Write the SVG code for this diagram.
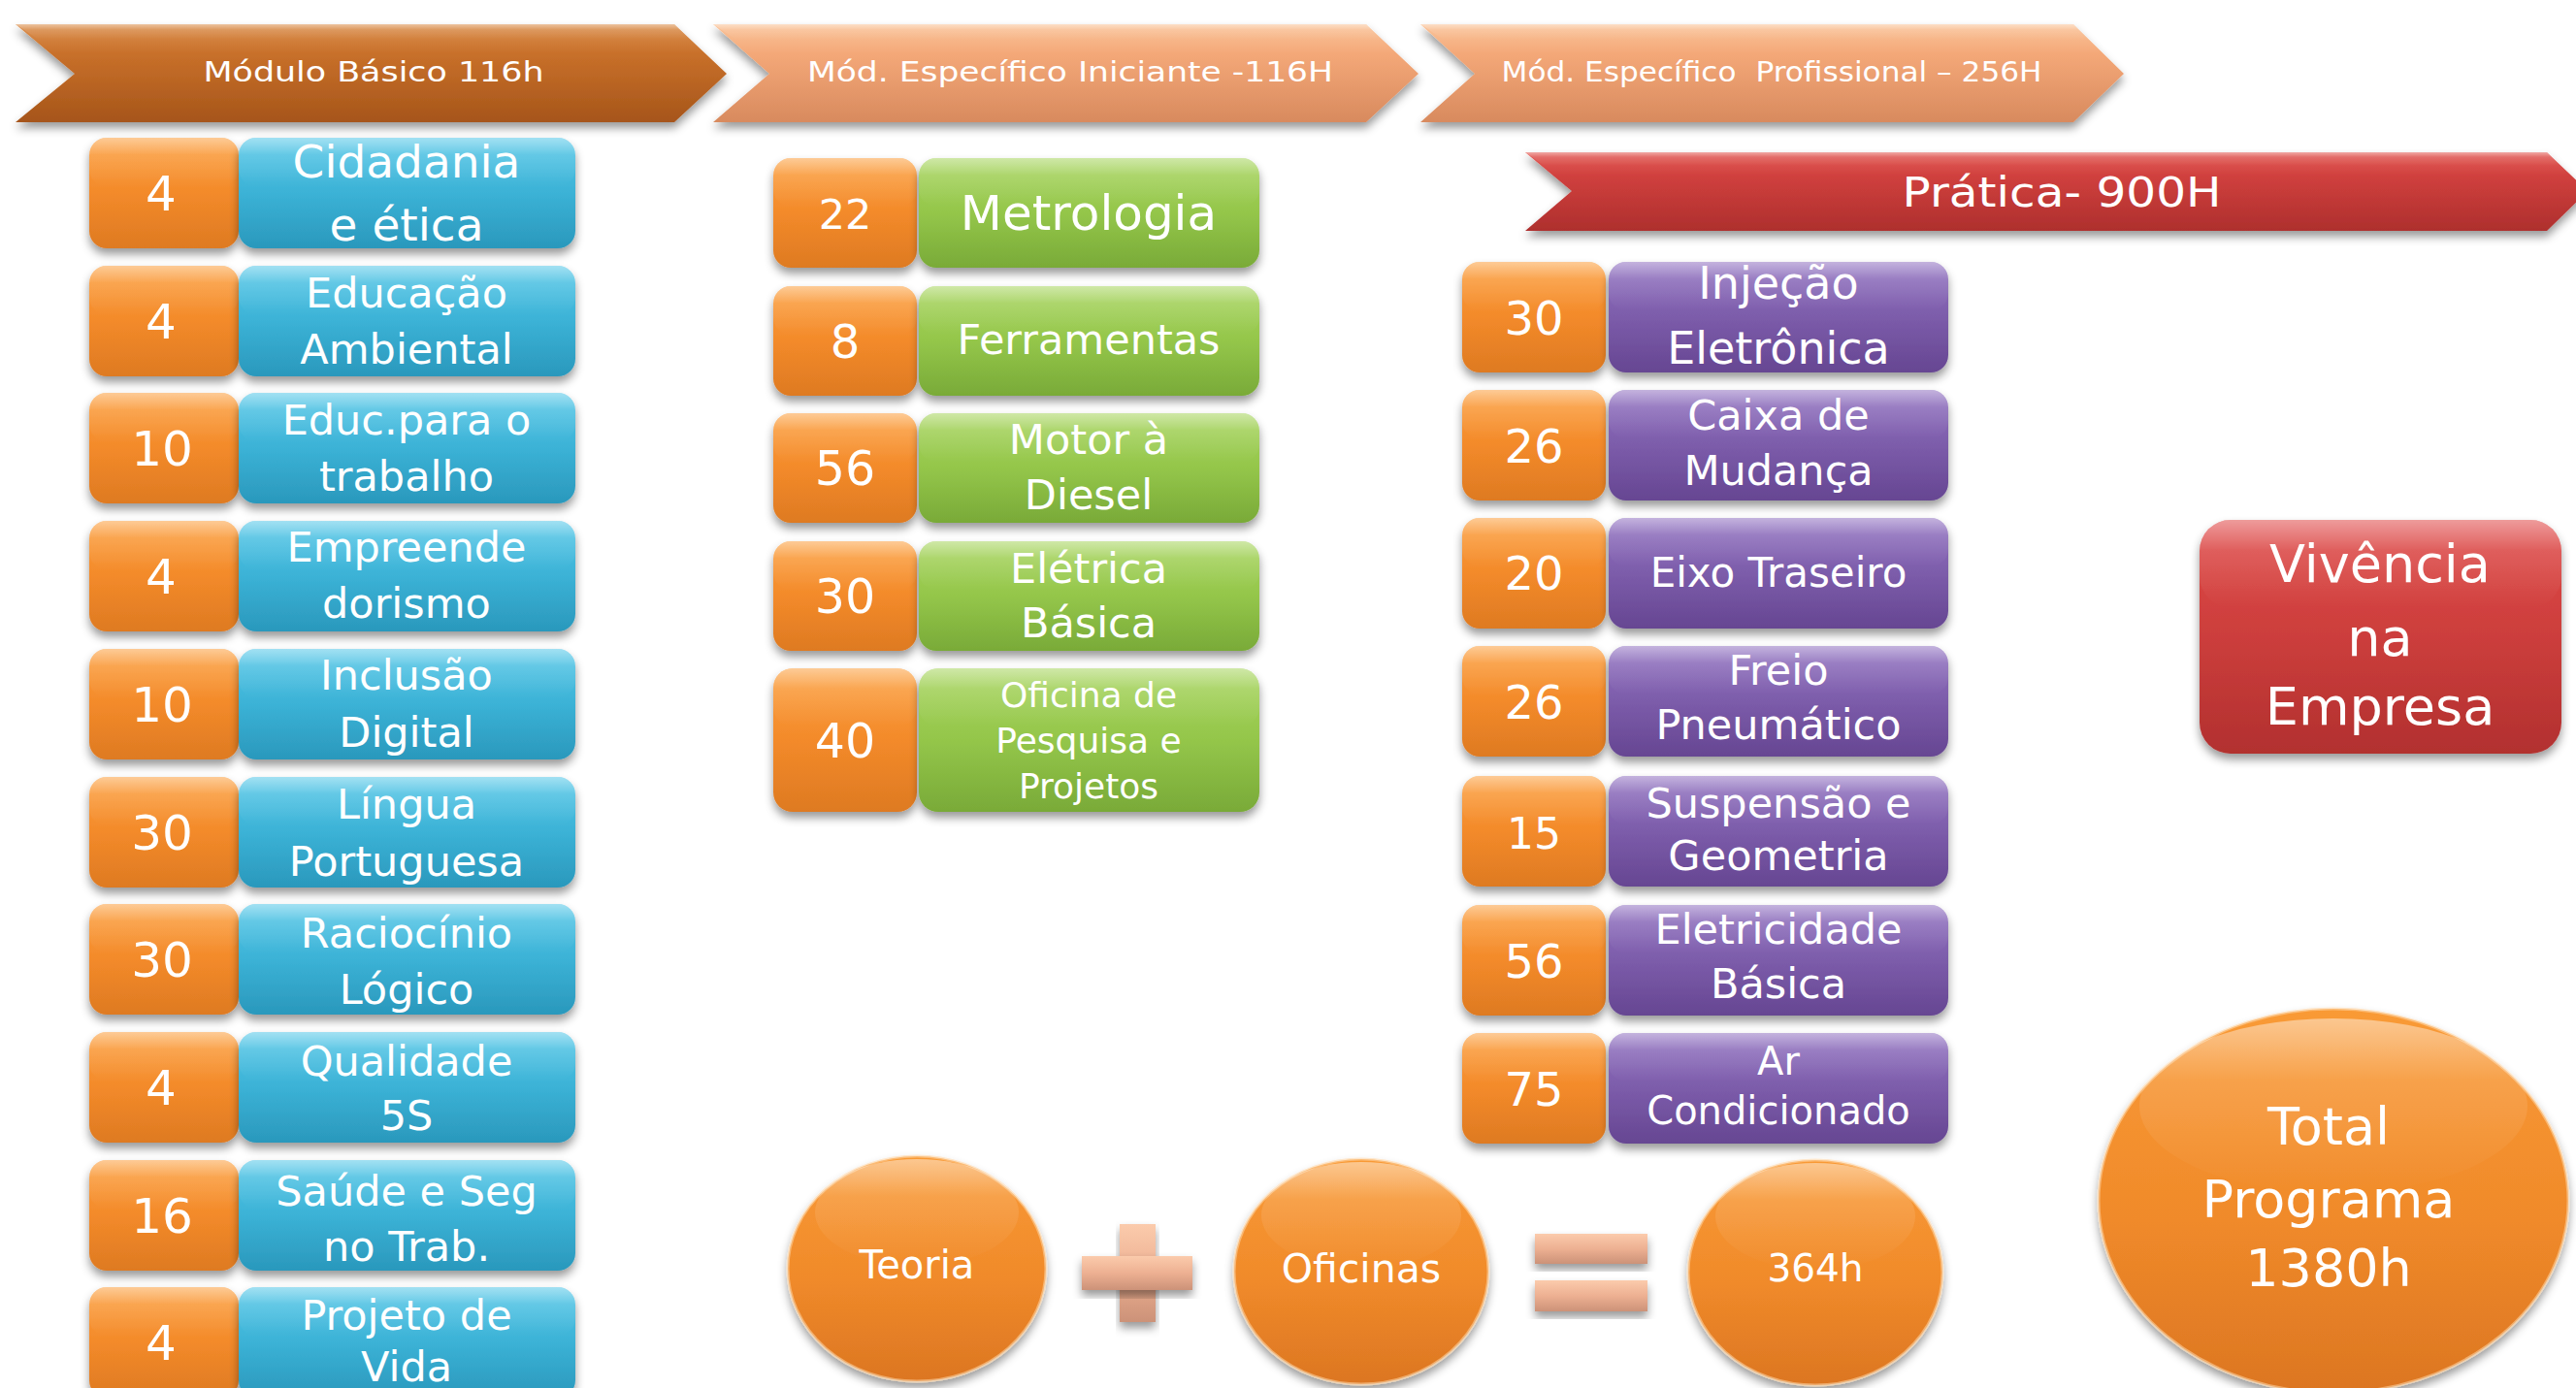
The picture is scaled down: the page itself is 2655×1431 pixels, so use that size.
<svg xmlns="http://www.w3.org/2000/svg" width="2655" height="1431" viewBox="0 0 2655 1431">
<defs>
<style>
.t{font-family:"DejaVu Sans","Open Sans",sans-serif;fill:#fff;text-anchor:middle}
.n{font-size:50px}
.l{font-size:43px}
.num{fill:url(#gOrange);filter:url(#sh)}
.blue{fill:url(#gBlue);filter:url(#sh)}
.green{fill:url(#gGreen);filter:url(#sh)}
.purple{fill:url(#gPurple);filter:url(#sh)}
.hl{fill:url(#gHL)}
.ell{fill:url(#gEll);filter:url(#sh);stroke:#FFD7A8;stroke-width:3;stroke-opacity:.55}
.sign{fill:url(#gSign);filter:url(#sh)}
</style>
<filter id="sh" x="-10%" y="-10%" width="120%" height="135%"><feDropShadow dx="0" dy="6" stdDeviation="5" flood-color="#000" flood-opacity="0.4"/></filter>
<linearGradient id="gOrange" x1="0" y1="0" x2="0" y2="1"><stop offset="0" stop-color="#FCA040"/><stop offset=".5" stop-color="#F38A2A"/><stop offset="1" stop-color="#DE7A22"/></linearGradient>
<linearGradient id="gBlue" x1="0" y1="0" x2="0" y2="1"><stop offset="0" stop-color="#58C8E8"/><stop offset=".5" stop-color="#3BB2D6"/><stop offset="1" stop-color="#2A98BC"/></linearGradient>
<linearGradient id="gGreen" x1="0" y1="0" x2="0" y2="1"><stop offset="0" stop-color="#A8D560"/><stop offset=".5" stop-color="#94C64A"/><stop offset="1" stop-color="#79AA38"/></linearGradient>
<linearGradient id="gPurple" x1="0" y1="0" x2="0" y2="1"><stop offset="0" stop-color="#9374C2"/><stop offset=".5" stop-color="#7C5CAA"/><stop offset="1" stop-color="#664692"/></linearGradient>
<linearGradient id="gRed" x1="0" y1="0" x2="0" y2="1"><stop offset="0" stop-color="#E04B49"/><stop offset=".5" stop-color="#CC3E3C"/><stop offset="1" stop-color="#B2302F"/></linearGradient>
<linearGradient id="gArrowDark" x1="0" y1="0" x2="0" y2="1"><stop offset="0" stop-color="#DC9150"/><stop offset=".3" stop-color="#C8702A"/><stop offset="1" stop-color="#A6551A"/></linearGradient>
<linearGradient id="gArrowLight" x1="0" y1="0" x2="0" y2="1"><stop offset="0" stop-color="#FAC49A"/><stop offset=".3" stop-color="#F4A878"/><stop offset="1" stop-color="#D88A5E"/></linearGradient>
<linearGradient id="gPratica" x1="0" y1="0" x2="0" y2="1"><stop offset="0" stop-color="#E4605A"/><stop offset=".3" stop-color="#D0403E"/><stop offset="1" stop-color="#AE2F2D"/></linearGradient>
<linearGradient id="gEll" x1="0" y1="0" x2="0" y2="1"><stop offset="0" stop-color="#F99A36"/><stop offset=".55" stop-color="#F08A2A"/><stop offset="1" stop-color="#DC7622"/></linearGradient>
<linearGradient id="gSign" x1="0" y1="0" x2="0" y2="1"><stop offset="0" stop-color="#FBCBAC"/><stop offset=".5" stop-color="#EDB092"/><stop offset="1" stop-color="#CC9278"/></linearGradient>
<linearGradient id="gHL" x1="0" y1="0" x2="0" y2="1"><stop offset="0" stop-color="#fff" stop-opacity=".45"/><stop offset=".35" stop-color="#fff" stop-opacity=".12"/><stop offset="1" stop-color="#fff" stop-opacity="0"/></linearGradient>
</defs>
<rect width="2655" height="1431" fill="#fff"/>

<g id="connectors"></g>

<!-- header chevrons -->
<g id="modulo-basico">
<path d="M16,25 L695,25 L749,76 L695,126 L16,126 L77,76 Z" fill="url(#gArrowDark)" filter="url(#sh)"/>
<path d="M16,25 L695,25 L712,41 L40,41 Z" class="hl"/>
<text class="t" x="385" y="84" font-size="29" textLength="351" lengthAdjust="spacingAndGlyphs">Módulo Básico 116h</text>
</g>
<g id="mod-iniciante">
<path d="M735,25 L1408,25 L1462,76 L1408,126 L735,126 L793,76 Z" fill="url(#gArrowLight)" filter="url(#sh)"/>
<path d="M735,25 L1408,25 L1425,41 L759,41 Z" class="hl"/>
<text class="t" x="1103" y="84" font-size="29" textLength="542" lengthAdjust="spacingAndGlyphs">Mód. Específico Iniciante -116H</text>
</g>
<g id="mod-profissional">
<path d="M1464,25 L2137,25 L2189,76 L2137,126 L1464,126 L1520,76 Z" fill="url(#gArrowLight)" filter="url(#sh)"/>
<path d="M1464,25 L2137,25 L2154,41 L1488,41 Z" class="hl"/>
<text class="t" x="1826" y="84" font-size="29" textLength="557" lengthAdjust="spacingAndGlyphs" xml:space="preserve">Mód. Específico  Profissional – 256H</text>
</g>
<g id="pratica">
<path d="M1572,157 L2625,157 L2667,197 L2625,238 L1572,238 L1620,197 Z" fill="url(#gPratica)" filter="url(#sh)"/>
<path d="M1572,157 L2625,157 L2640,171 L1592,171 Z" class="hl"/>
<text class="t" x="2125" y="213" font-size="43" textLength="329" lengthAdjust="spacingAndGlyphs">Prática- 900H</text>
</g>

<!-- Módulo Básico column -->
<g id="b1"><rect class="num" x="92" y="142" width="154" height="114" rx="18"/><rect class="hl" x="92" y="142" width="154" height="50" rx="18"/><rect class="blue" x="246" y="142" width="347" height="114" rx="18"/><rect class="hl" x="246" y="142" width="347" height="50" rx="18"/>
<text class="t n" x="166" y="217">4</text><text class="t" font-size="47" x="419" y="183">Cidadania</text><text class="t" font-size="47" x="419" y="248">e ética</text></g>
<g id="b2"><rect class="num" x="92" y="274" width="154" height="114" rx="18"/><rect class="hl" x="92" y="274" width="154" height="50" rx="18"/><rect class="blue" x="246" y="274" width="347" height="114" rx="18"/><rect class="hl" x="246" y="274" width="347" height="50" rx="18"/>
<text class="t n" x="166" y="349">4</text><text class="t l" x="419" y="317">Educação</text><text class="t l" x="419" y="375">Ambiental</text></g>
<g id="b3"><rect class="num" x="92" y="405" width="154" height="114" rx="18"/><rect class="hl" x="92" y="405" width="154" height="50" rx="18"/><rect class="blue" x="246" y="405" width="347" height="114" rx="18"/><rect class="hl" x="246" y="405" width="347" height="50" rx="18"/>
<text class="t n" x="167" y="480">10</text><text class="t l" x="419" y="448">Educ.para o</text><text class="t l" x="419" y="506">trabalho</text></g>
<g id="b4"><rect class="num" x="92" y="537" width="154" height="114" rx="18"/><rect class="hl" x="92" y="537" width="154" height="50" rx="18"/><rect class="blue" x="246" y="537" width="347" height="114" rx="18"/><rect class="hl" x="246" y="537" width="347" height="50" rx="18"/>
<text class="t n" x="166" y="612">4</text><text class="t l" x="419" y="579">Empreende</text><text class="t l" x="419" y="637">dorismo</text></g>
<g id="b5"><rect class="num" x="92" y="669" width="154" height="114" rx="18"/><rect class="hl" x="92" y="669" width="154" height="50" rx="18"/><rect class="blue" x="246" y="669" width="347" height="114" rx="18"/><rect class="hl" x="246" y="669" width="347" height="50" rx="18"/>
<text class="t n" x="167" y="744">10</text><text class="t l" x="419" y="711">Inclusão</text><text class="t l" x="419" y="770">Digital</text></g>
<g id="b6"><rect class="num" x="92" y="801" width="154" height="114" rx="18"/><rect class="hl" x="92" y="801" width="154" height="50" rx="18"/><rect class="blue" x="246" y="801" width="347" height="114" rx="18"/><rect class="hl" x="246" y="801" width="347" height="50" rx="18"/>
<text class="t n" x="167" y="876">30</text><text class="t l" x="419" y="844">Língua</text><text class="t l" x="419" y="903">Portuguesa</text></g>
<g id="b7"><rect class="num" x="92" y="932" width="154" height="114" rx="18"/><rect class="hl" x="92" y="932" width="154" height="50" rx="18"/><rect class="blue" x="246" y="932" width="347" height="114" rx="18"/><rect class="hl" x="246" y="932" width="347" height="50" rx="18"/>
<text class="t n" x="167" y="1007">30</text><text class="t l" x="419" y="977">Raciocínio</text><text class="t l" x="419" y="1035">Lógico</text></g>
<g id="b8"><rect class="num" x="92" y="1064" width="154" height="114" rx="18"/><rect class="hl" x="92" y="1064" width="154" height="50" rx="18"/><rect class="blue" x="246" y="1064" width="347" height="114" rx="18"/><rect class="hl" x="246" y="1064" width="347" height="50" rx="18"/>
<text class="t n" x="166" y="1139">4</text><text class="t l" x="419" y="1109">Qualidade</text><text class="t l" x="419" y="1165">5S</text></g>
<g id="b9"><rect class="num" x="92" y="1196" width="154" height="114" rx="18"/><rect class="hl" x="92" y="1196" width="154" height="50" rx="18"/><rect class="blue" x="246" y="1196" width="347" height="114" rx="18"/><rect class="hl" x="246" y="1196" width="347" height="50" rx="18"/>
<text class="t n" x="167" y="1271">16</text><text class="t l" x="419" y="1243">Saúde e Seg</text><text class="t l" x="419" y="1300">no Trab.</text></g>
<g id="b10"><rect class="num" x="92" y="1327" width="154" height="114" rx="18"/><rect class="hl" x="92" y="1327" width="154" height="50" rx="18"/><rect class="blue" x="246" y="1327" width="347" height="114" rx="18"/><rect class="hl" x="246" y="1327" width="347" height="50" rx="18"/>
<text class="t n" x="166" y="1402">4</text><text class="t l" x="419" y="1371">Projeto de</text><text class="t l" x="419" y="1424">Vida</text></g>

<!-- Iniciante column -->
<g id="i1"><rect class="num" x="797" y="163" width="148" height="113" rx="18"/><rect class="hl" x="797" y="163" width="148" height="50" rx="18"/><rect class="green" x="947" y="163" width="351" height="113" rx="18"/><rect class="hl" x="947" y="163" width="351" height="50" rx="18"/>
<text class="t" font-size="43" x="871" y="236">22</text><text class="t" font-size="50" x="1122" y="237">Metrologia</text></g>
<g id="i2"><rect class="num" x="797" y="295" width="148" height="113" rx="18"/><rect class="hl" x="797" y="295" width="148" height="50" rx="18"/><rect class="green" x="947" y="295" width="351" height="113" rx="18"/><rect class="hl" x="947" y="295" width="351" height="50" rx="18"/>
<text class="t" font-size="48" x="871" y="369">8</text><text class="t l" x="1122" y="365">Ferramentas</text></g>
<g id="i3"><rect class="num" x="797" y="426" width="148" height="113" rx="18"/><rect class="hl" x="797" y="426" width="148" height="50" rx="18"/><rect class="green" x="947" y="426" width="351" height="113" rx="18"/><rect class="hl" x="947" y="426" width="351" height="50" rx="18"/>
<text class="t" font-size="49" x="871" y="500">56</text><text class="t l" x="1122" y="468">Motor à</text><text class="t l" x="1122" y="525">Diesel</text></g>
<g id="i4"><rect class="num" x="797" y="558" width="148" height="113" rx="18"/><rect class="hl" x="797" y="558" width="148" height="50" rx="18"/><rect class="green" x="947" y="558" width="351" height="113" rx="18"/><rect class="hl" x="947" y="558" width="351" height="50" rx="18"/>
<text class="t" font-size="49" x="871" y="632">30</text><text class="t l" x="1122" y="601">Elétrica</text><text class="t l" x="1122" y="657">Básica</text></g>
<g id="i5"><rect class="num" x="797" y="689" width="148" height="148" rx="20"/><rect class="hl" x="797" y="689" width="148" height="60" rx="20"/><rect class="green" x="947" y="689" width="351" height="148" rx="20"/><rect class="hl" x="947" y="689" width="351" height="60" rx="20"/>
<text class="t" font-size="49" x="871" y="781">40</text><text class="t" font-size="36" x="1122" y="729">Oficina de</text><text class="t" font-size="36" x="1122" y="776">Pesquisa e</text><text class="t" font-size="36" x="1122" y="823">Projetos</text></g>

<!-- Profissional column -->
<g id="p1"><rect class="num" x="1507" y="270" width="148" height="114" rx="18"/><rect class="hl" x="1507" y="270" width="148" height="50" rx="18"/><rect class="purple" x="1658" y="270" width="350" height="114" rx="18"/><rect class="hl" x="1658" y="270" width="350" height="50" rx="18"/>
<text class="t" font-size="48" x="1581" y="345">30</text><text class="t" font-size="46" x="1833" y="308">Injeção</text><text class="t" font-size="46" x="1833" y="375">Eletrônica</text></g>
<g id="p2"><rect class="num" x="1507" y="402" width="148" height="114" rx="18"/><rect class="hl" x="1507" y="402" width="148" height="50" rx="18"/><rect class="purple" x="1658" y="402" width="350" height="114" rx="18"/><rect class="hl" x="1658" y="402" width="350" height="50" rx="18"/>
<text class="t" font-size="48" x="1581" y="477">26</text><text class="t l" x="1833" y="443">Caixa de</text><text class="t l" x="1833" y="500">Mudança</text></g>
<g id="p3"><rect class="num" x="1507" y="534" width="148" height="114" rx="18"/><rect class="hl" x="1507" y="534" width="148" height="50" rx="18"/><rect class="purple" x="1658" y="534" width="350" height="114" rx="18"/><rect class="hl" x="1658" y="534" width="350" height="50" rx="18"/>
<text class="t" font-size="48" x="1581" y="608">20</text><text class="t" font-size="42" x="1833" y="605">Eixo Traseiro</text></g>
<g id="p4"><rect class="num" x="1507" y="666" width="148" height="114" rx="18"/><rect class="hl" x="1507" y="666" width="148" height="50" rx="18"/><rect class="purple" x="1658" y="666" width="350" height="114" rx="18"/><rect class="hl" x="1658" y="666" width="350" height="50" rx="18"/>
<text class="t" font-size="48" x="1581" y="741">26</text><text class="t l" x="1833" y="706">Freio</text><text class="t l" x="1833" y="762">Pneumático</text></g>
<g id="p5"><rect class="num" x="1507" y="800" width="148" height="114" rx="18"/><rect class="hl" x="1507" y="800" width="148" height="50" rx="18"/><rect class="purple" x="1658" y="800" width="350" height="114" rx="18"/><rect class="hl" x="1658" y="800" width="350" height="50" rx="18"/>
<text class="t" font-size="44" x="1581" y="875">15</text><text class="t l" x="1833" y="843">Suspensão e</text><text class="t l" x="1833" y="897">Geometria</text></g>
<g id="p6"><rect class="num" x="1507" y="933" width="148" height="114" rx="18"/><rect class="hl" x="1507" y="933" width="148" height="50" rx="18"/><rect class="purple" x="1658" y="933" width="350" height="114" rx="18"/><rect class="hl" x="1658" y="933" width="350" height="50" rx="18"/>
<text class="t" font-size="48" x="1581" y="1008">56</text><text class="t l" x="1833" y="973">Eletricidade</text><text class="t l" x="1833" y="1029">Básica</text></g>
<g id="p7"><rect class="num" x="1507" y="1065" width="148" height="114" rx="18"/><rect class="hl" x="1507" y="1065" width="148" height="50" rx="18"/><rect class="purple" x="1658" y="1065" width="350" height="114" rx="18"/><rect class="hl" x="1658" y="1065" width="350" height="50" rx="18"/>
<text class="t" font-size="48" x="1581" y="1140">75</text><text class="t" font-size="40" x="1833" y="1108">Ar</text><text class="t" font-size="40" x="1833" y="1159">Condicionado</text></g>

<!-- Vivência -->
<g id="vivencia"><rect x="2267" y="536" width="373" height="241" rx="32" fill="url(#gRed)" filter="url(#sh)"/><rect class="hl" x="2267" y="536" width="373" height="90" rx="32"/>
<text class="t" font-size="54" x="2453" y="600">Vivência</text><text class="t" font-size="54" x="2453" y="676">na</text><text class="t" font-size="54" x="2453" y="747">Empresa</text></g>

<!-- Total -->
<g id="total"><ellipse class="ell" cx="2405" cy="1238" rx="242" ry="198"/><ellipse class="hl" cx="2405" cy="1140" rx="200" ry="90"/>
<text class="t" font-size="54" x="2400" y="1180">Total</text><text class="t" font-size="54" x="2400" y="1255">Programa</text><text class="t" font-size="54" x="2400" y="1326">1380h</text></g>

<!-- equation -->
<g id="teoria"><ellipse class="ell" cx="945" cy="1308" rx="133" ry="116"/><ellipse class="hl" cx="945" cy="1250" rx="105" ry="55"/>
<text class="t" font-size="40" x="945" y="1318">Teoria</text></g>
<g id="plus"><rect class="sign" x="1154" y="1262" width="37" height="101"/><rect class="sign" x="1115" y="1295" width="114" height="35"/></g>
<g id="oficinas"><ellipse class="ell" cx="1403" cy="1311" rx="131" ry="116"/><ellipse class="hl" cx="1403" cy="1253" rx="103" ry="55"/>
<text class="t" font-size="41" x="1403" y="1322">Oficinas</text></g>
<g id="equals"><rect class="sign" x="1582" y="1272" width="116" height="31"/><rect class="sign" x="1582" y="1320" width="116" height="32"/></g>
<g id="total364"><ellipse class="ell" cx="1871" cy="1312" rx="131" ry="116"/><ellipse class="hl" cx="1871" cy="1254" rx="103" ry="55"/>
<text class="t" font-size="39" x="1871" y="1321">364h</text></g>
</svg>
